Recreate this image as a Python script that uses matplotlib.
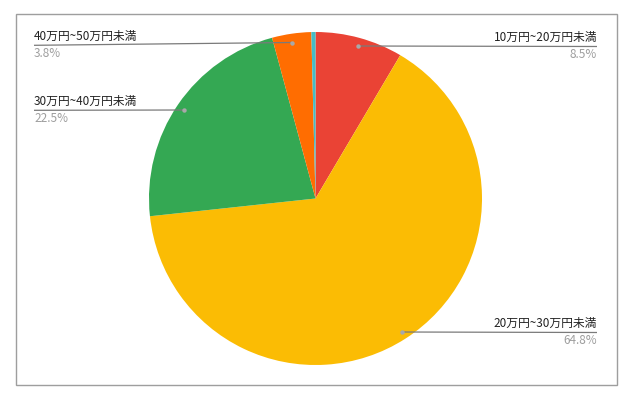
import matplotlib
matplotlib.use("Agg")
import matplotlib.pyplot as plt
from matplotlib.patches import Rectangle

plt.rcParams['font.family'] = ['Noto Sans CJK JP', 'DejaVu Sans']

# データ（時計回り、12時から）
categories = ["10万円~20万円未満", "20万円~30万円未満", "30万円~40万円未満", "40万円~50万円未満", ""]
values = [8.5, 64.8, 22.5, 3.8, 0.4]
pct_labels = ["8.5%", "64.8%", "22.5%", "3.8%", ""]
colors = ["#ea4335", "#fbbc04", "#34a853", "#ff6d01", "#46bdc6"]

W, H = 635, 401
fig = plt.figure(figsize=(W / 100, H / 100), dpi=100)
ax = fig.add_axes([0, 0, 1, 1])

def fy(y):
    # ピクセル座標（上から）→ 軸座標
    return H - y

cx, cy, r = 315.5, 198.5, 166.5
ax.pie(values, colors=colors, startangle=90, counterclock=False,
       center=(cx, fy(cy)), radius=r, frame=True,
       wedgeprops=dict(linewidth=0))
ax.set_xlim(0, W)
ax.set_ylim(0, H)
ax.set_aspect('equal')
ax.axis('off')

# 枠線
ax.add_patch(Rectangle((15.5, fy(385)), 601.5, 371.5, fill=False,
                       edgecolor='#9e9e9e', linewidth=1.0))

# ラベル: (テキスト端x, 線y, 点x, 点y, 左右)
label_pos = [
    (597, 46.5, 358, 46, 'right'),
    (597, 332.5, 402, 332, 'right'),
    (34, 110.3, 184, 110, 'left'),
    (34, 45.3, 292, 42.5, 'left'),
]

for i, (tx, ly, dx, dy, side) in enumerate(label_pos):
    ax.plot([tx, dx], [fy(ly), fy(dy)], color='#7a7a7a', linewidth=0.9,
            solid_capstyle='butt')
    ax.plot([dx], [fy(dy)], marker='o', markersize=3.2, color='#a8a8a8',
            markeredgewidth=0)
    ax.text(tx, fy(ly - 2.5), categories[i], ha=side, va='bottom',
            fontsize=8.5, color='#222222')
    ax.text(tx, fy(ly + 1.5), pct_labels[i], ha=side, va='top',
            fontsize=8.5, color='#9e9e9e')

fig.savefig("out.png", dpi=100)
